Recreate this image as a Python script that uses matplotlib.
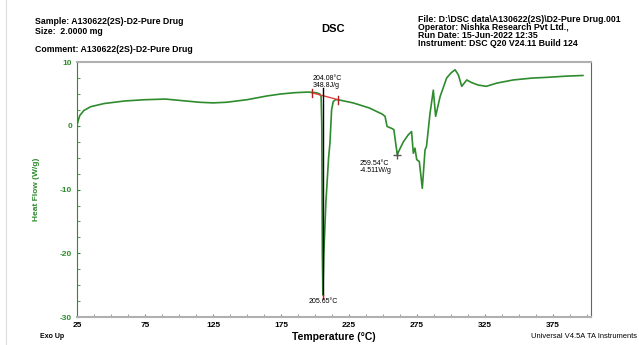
import matplotlib
matplotlib.use("Agg")
import matplotlib.pyplot as plt
from matplotlib.ticker import MultipleLocator

plt.rcParams["font.family"] = ["Liberation Sans", "DejaVu Sans"]
plt.rcParams["axes.unicode_minus"] = False

# DSC trace (temperature in °C, heat flow in W/g)
temp = [25, 26, 27, 30, 35, 45, 60, 75, 90, 100, 115, 125, 135, 150, 165,
        175, 185, 195, 201, 203.5, 204.5, 205.0, 205.4, 205.8, 206.5, 208,
        210, 211, 212.2, 213.4, 215, 217, 228, 240, 247.8, 249, 251.5, 253,
        256.4, 258, 259.5, 260.5, 262, 265, 268.6, 271, 272.3, 273.5, 274.8,
        276.7, 278.9, 280.9, 282, 284.6, 287, 288.7, 292, 296.8, 300, 303,
        305.4, 307.9, 311.6, 315, 320, 326, 333.6, 345.8, 360, 370, 385, 397]
heat_flow = [0.1, 0.9, 1.6, 2.4, 3.0, 3.5, 3.9, 4.1, 4.2, 4.0, 3.7, 3.6,
             3.7, 4.1, 4.7, 5.0, 5.2, 5.3, 5.2, 5.0, 4.6, 0.0, -20.0, -26.5,
             -20.0, -12.0, -5.0, -2.7, 2.5, 3.8, 4.1, 4.1, 3.6, 2.8, 2.0,
             1.9, 1.5, -0.1, -0.4, -0.6, -3.0, -4.5, -3.8, -2.5, -1.4, -0.9,
             -4.3, -3.5, -5.3, -5.6, -9.8, -3.8, -3.2, 2.0, 5.6, 1.5, 4.6,
             7.5, 8.3, 8.8, 8.0, 6.2, 7.2, 6.8, 6.4, 6.2, 6.7, 7.2, 7.5, 7.6,
             7.8, 7.9]

x_ticks = [25, 75, 125, 175, 225, 275, 325, 375]
y_ticks = [10, 0, -10, -20, -30]

# peak integration / annotations
onset_t, onset_v = 197.5, 5.2
end_t, end_v = 217.0, 4.1
peak_t, peak_v = 205.8, -26.5
mark_t, mark_v = 260.5, -4.5

green = "#2e8b2e"
fig = plt.figure(figsize=(6.39, 3.45), dpi=100)
ax = fig.add_axes([0.1205, 0.081, 0.8045, 0.739])

ax.plot(temp, heat_flow, color=green, lw=1.2)

# baseline + drop line
ax.plot([onset_t, end_t], [onset_v, end_v], color="#e04040", lw=1.0)
for t, v in [(onset_t, onset_v), (end_t, end_v)]:
    ax.plot([t, t], [v - 0.6, v + 0.6], color="#b02020", lw=1.0)
ax.plot([peak_t, peak_t], [5.9, peak_v], color="black", lw=1.0)
ax.plot([peak_t, peak_t], [peak_v - 0.6, peak_v], color="red", lw=1.0)
ax.plot([mark_t], [mark_v], marker="+", color="#555555", ms=6, mew=1.0)

ax.text(198.5, 6.8, "204.08°C\n348.8J/g", fontsize=5, va="center",
        linespacing=1.0)
ax.text(233.0, -6.4, "259.54°C\n-4.511W/g", fontsize=5, va="center",
        linespacing=1.0)
ax.text(peak_t, -27.6, "205.65°C", fontsize=5, ha="center", va="center")

ax.set_xlim(25, 403)
ax.set_ylim(-30, 10)
ax.set_xticks(x_ticks)
ax.set_yticks(y_ticks)
ax.xaxis.set_minor_locator(MultipleLocator(12.5))
ax.yaxis.set_minor_locator(MultipleLocator(2.5))
ax.tick_params(axis="both", which="both", direction="in")
ax.tick_params(axis="x", which="both", colors="#888888", length=2,
               labelcolor="black", labelsize=6)
ax.tick_params(axis="y", which="both", colors=green, length=2,
               labelcolor=green, labelsize=6)
for lab in ax.get_xticklabels() + ax.get_yticklabels():
    lab.set_fontweight("bold")

ax.spines["top"].set_color("#b0b0b0")
ax.spines["bottom"].set_color("#b0b0b0")
ax.spines["top"].set_linewidth(1.5)
ax.spines["bottom"].set_linewidth(1.5)
ax.spines["left"].set_color(green)
ax.spines["right"].set_color(green)

ax.set_xlabel("Temperature (°C)", fontsize=7.5, fontweight="bold", labelpad=2)
ax.set_ylabel("Heat Flow (W/g)", fontsize=6, fontweight="bold", color=green,
              labelpad=14)

# header blocks
fs = 6.3
fig.text(35 / 639, 1 - 21 / 345, "Sample: A130622(2S)-D2-Pure Drug",
         fontsize=fs, fontweight="bold", va="center")
fig.text(35 / 639, 1 - 31 / 345, "Size:  2.0000 mg", fontsize=fs,
         fontweight="bold", va="center")
fig.text(35 / 639, 1 - 49 / 345, "Comment: A130622(2S)-D2-Pure Drug",
         fontsize=fs, fontweight="bold", va="center")
fig.text(333 / 639, 1 - 29 / 345, "DSC", fontsize=8, fontweight="bold",
         ha="center", va="center")
right_lines = ["File: D:\\DSC data\\A130622(2S)\\D2-Pure Drug.001",
               "Operator: Nishka Research Pvt Ltd.,",
               "Run Date: 15-Jun-2022 12:35",
               "Instrument: DSC Q20 V24.11 Build 124"]
for i, s in enumerate(right_lines):
    fig.text(418 / 639, 1 - (19 + 8 * i) / 345, s, fontsize=fs,
             fontweight="bold", va="center")

fig.text(40 / 639, 1 - 337 / 345, "Exo Up", fontsize=5, fontweight="bold",
         va="center")
fig.text(637 / 639, 1 - 337 / 345, "Universal V4.5A TA Instruments",
         fontsize=5.4, ha="right", va="center")

# faint page border on the left
fig.add_artist(plt.Line2D([6 / 639, 6 / 639], [0, 1], color="#dddddd",
                          lw=0.8, transform=fig.transFigure))

fig.savefig("out.png", dpi=100)
